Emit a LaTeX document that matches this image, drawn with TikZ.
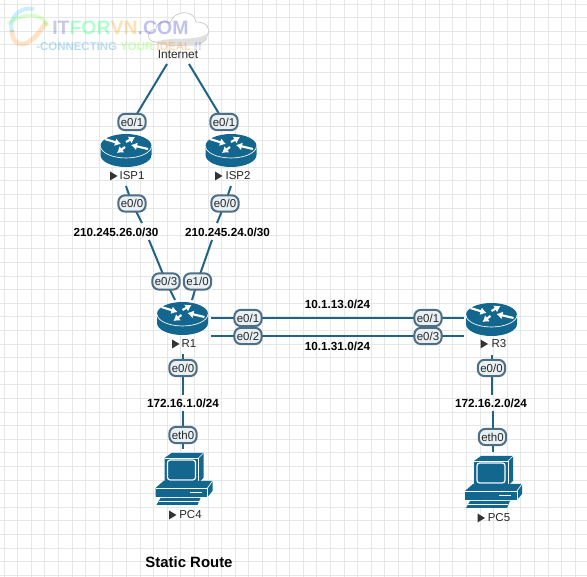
\documentclass[tikz,border=0pt]{standalone}
\usepackage{fontspec}
\setmainfont{Liberation Sans}
\usetikzlibrary{arrows.meta}
\definecolor{rt}{HTML}{13678F}
\definecolor{lnk}{HTML}{1F6484}
\definecolor{pill}{HTML}{E9F0F4}
\definecolor{pilld}{HTML}{4F6E84}
\definecolor{gridc}{HTML}{E6E8E8}
\tikzset{
  x=0.75pt,y=-0.75pt,
  port/.style={draw=pilld,line width=1.5pt,fill=pill,rounded corners=5pt,inner sep=0pt,minimum width=20.5pt,minimum height=12.2pt,font=\fontsize{8.6pt}{9pt}\selectfont,text=black!85},
  net/.style={font=\bfseries\fontsize{8.8pt}{10pt}\selectfont,text=black,inner sep=0pt},
  devlabel/.style={font=\fontsize{8.6pt}{9pt}\selectfont,text=black!85,inner sep=0pt},
  link/.style={draw=lnk,line width=1.5pt},
  anchorpt/.style={inner sep=0pt,minimum size=0pt},
  pics/router/.style={code={
    \fill[rt] (-25.5,-6) -- (-25.5,3) arc[start angle=180,end angle=0,x radius=25.5,y radius=12] -- (25.5,-6) -- cycle;
    \fill[rt] (0,-6) ellipse[x radius=25.5,y radius=12];
    \draw[white,line width=.5pt] (-25.5,-6) arc[start angle=180,end angle=0,x radius=25.5,y radius=12];
    \foreach \a/\b/\c/\d in {-21/-13/-5/-8,0/-10/9/-15,-1/-5/-9/1,22/-3/5/-7}{
      \draw[white,line width=1.6pt,-{Latex[length=4.5pt,width=6pt]}] (\a,\b) -- (\c,\d);
    }
  }},
  pics/pc/.style={code={
    \fill[rt] (-19,-26) -- (-12,-31) -- (20,-31) -- (20,-6) -- (15,-1) -- (-19,-1) -- cycle;
    \draw[white,line width=.5pt] (-19,-26) -- (15,-26) -- (15,-1);
    \draw[white,line width=.5pt] (15,-26) -- (20,-31);
    \draw[white,line width=.9pt,rounded corners=2pt,fill=rt] (-16,-24) rectangle (12,-4);
    \fill[rt] (-28,4) -- (-20,-3) -- (29,-3) -- (29,7) -- (24,13) -- (-28,13) -- cycle;
    \draw[white,line width=.5pt] (-28,4) -- (24,4) -- (24,13);
    \draw[white,line width=.5pt] (24,4) -- (29,-3);
    \draw[white,line width=1pt] (6,8.5) -- (18,8.5);
    \fill[rt] (-27,21) -- (-23,14) -- (17,14) -- (14,21) -- cycle;
    \draw[white,line width=.5pt] (-25,17) -- (15,17);
  }}
}
\begin{document}
\begin{tikzpicture}
\useasboundingbox (0,0) rectangle (587,577);
\fill[white] (0,0) rectangle (587,577);
\foreach \i in {0,...,45}{\draw[gridc,line width=.5pt] ({\i*13.6+4},0) -- ({\i*13.6+4},577);}
\foreach \i in {0,...,42}{\draw[gridc,line width=.5pt] (0,{\i*13.6+4}) -- (587,{\i*13.6+4});}
% cloud
\fill[white,draw=gray!45,line width=.5pt] (156,42) .. controls (146,42) and (146,30) .. (156,29) .. controls (156,22) and (166,20) .. (170,23) .. controls (174,10) and (194,9) .. (196,22) .. controls (206,22) and (212,28) .. (207,36) .. controls (207,43) and (196,46) .. (188,45) .. controls (178,46) and (164,46) .. (156,42) -- cycle;
\fill[gray!25] (156,42) .. controls (170,36) and (195,42) .. (207,34) .. controls (207,43) and (196,46) .. (188,45) .. controls (178,46) and (164,46) .. (156,42) -- cycle;
% watermark
\draw[blue!30!cyan,opacity=.2,line width=3pt] (34,9) .. controls (20,6) and (8,18) .. (12,32);
\draw[orange,opacity=.22,line width=3.5pt] (12,30) .. controls (12,50) and (30,50) .. (46,22);
\draw[green!70!yellow,opacity=.2,line width=2.5pt] (8,24) .. controls (20,14) and (40,10) .. (48,26);
\node[anchorpt,anchor=west,font=\bfseries\fontsize{14.6pt}{16pt}\selectfont,opacity=.3] (wm1) at (52,28) {\textcolor{blue!40!gray}{IT}\textcolor{green!60!cyan}{FOR}\textcolor{orange!80!yellow}{VN}\textcolor{blue!60!gray}{.COM}};
\node[anchorpt,anchor=west,font=\bfseries\fontsize{8.6pt}{9pt}\selectfont,opacity=.28] (wm2) at (36,47) {\textcolor{cyan!70!blue}{-CONNECTING} \textcolor{green!70!yellow}{YOUR} \textcolor{orange}{IDEAL} \textcolor{blue!70}{!!}};
\node[devlabel,font=\fontsize{8.9pt}{9pt}\selectfont] (inet) at (178,54) {Internet};
% devices
\pic at (126,152) {router};
\pic at (231,152) {router};
\pic at (182.5,320) {router};
\pic at (491.5,321) {router};
\pic at (183.5,484) {pc};
\pic at (493,487) {pc};
% labels
\node[devlabel] (nisp1) at (132,176) {ISP1};
\node[devlabel] (nisp2) at (238,176) {ISP2};
\node[devlabel] (nr1) at (189,344) {R1};
\node[devlabel] (nr3) at (499,344) {R3};
\node[devlabel] (npc4) at (190.5,515) {PC4};
\node[devlabel] (npc5) at (499,518) {PC5};
\foreach \x/\y in {113.5/176,218.5/176,175.5/344,484/344,172.5/515,481/518}{
  \fill[black!80] (\x-3.5,\y-4.5) -- (\x+4,\y) -- (\x-3.5,\y+4.5) -- cycle;
}
% free ends
\coordinate (i1) at (167,64);
\coordinate (i2) at (189,64);
\coordinate (c1) at (126,186);
\coordinate (c2) at (231,186);
\coordinate (c3) at (175,300);
\coordinate (c4) at (192,300);
\coordinate (c5) at (211,318);
\coordinate (c6) at (211,336);
\coordinate (c7) at (464,318);
\coordinate (c8) at (464,336);
\coordinate (c9) at (183,354);
\coordinate (c10) at (491.5,355);
\coordinate (c11) at (183,449);
\coordinate (c12) at (492.5,452);
\coordinate (c13) at (142,223);
\coordinate (c14) at (217,223);
\coordinate (c15) at (149,240);
\coordinate (c16) at (212,240);
\coordinate (c17) at (183,395);
\coordinate (c18) at (491.5,395);
\coordinate (c19) at (183,411);
\coordinate (c20) at (492.5,411);
\coordinate (p1c) at (132,122);
\coordinate (p2c) at (224,122);
\coordinate (p3c) at (132,203.5);
\coordinate (p4c) at (225,203.5);
\coordinate (p5c) at (166,281.5);
\coordinate (p6c) at (197.5,281.5);
% links
\draw[link] (i1) -- (p1c);
\draw[link] (i2) -- (p2c);
\draw[link] (c1) -- (p3c) -- (c13);
\draw[link] (c2) -- (p4c) -- (c14);
\draw[link] (c15) -- (p5c) -- (c3);
\draw[link] (c16) -- (p6c) -- (c4);
\draw[link] (c5) -- (c7);
\draw[link] (c6) -- (c8);
\draw[link] (c9) -- (c17);
\draw[link] (c10) -- (c18);
\draw[link] (c19) -- (c11);
\draw[link] (c20) -- (c12);
% ports
\node[port] (p1) at (p1c) {e0/1};
\node[port] (p2) at (p2c) {e0/1};
\node[port] (p3) at (p3c) {e0/0};
\node[port] (p4) at (p4c) {e0/0};
\node[port] (p5) at (p5c) {e0/3};
\node[port] (p6) at (p6c) {e1/0};
\node[port] (p7) at (248,318) {e0/1};
\node[port] (p8) at (248,336) {e0/2};
\node[port] (p9) at (428,318) {e0/1};
\node[port] (p10) at (428,336) {e0/3};
\node[port] (p11) at (183,368) {e0/0};
\node[port] (p12) at (491.5,368) {e0/0};
\node[port] (p13) at (183,435) {eth0};
\node[port] (p14) at (492.5,437) {eth0};
% nets
\node[net] (n1) at (116,232) {210.245.26.0/30};
\node[net] (n2) at (227.5,232) {210.245.24.0/30};
\node[net] (n3) at (337.5,304) {10.1.13.0/24};
\node[net] (n4) at (337.5,346) {10.1.31.0/24};
\node[net] (n5) at (183,403) {172.16.1.0/24};
\node[net] (n6) at (491,403) {172.16.2.0/24};
\node[anchorpt,font=\bfseries\fontsize{11.2pt}{12pt}\selectfont] (title) at (189,562) {Static Route};
\end{tikzpicture}
\end{document}
